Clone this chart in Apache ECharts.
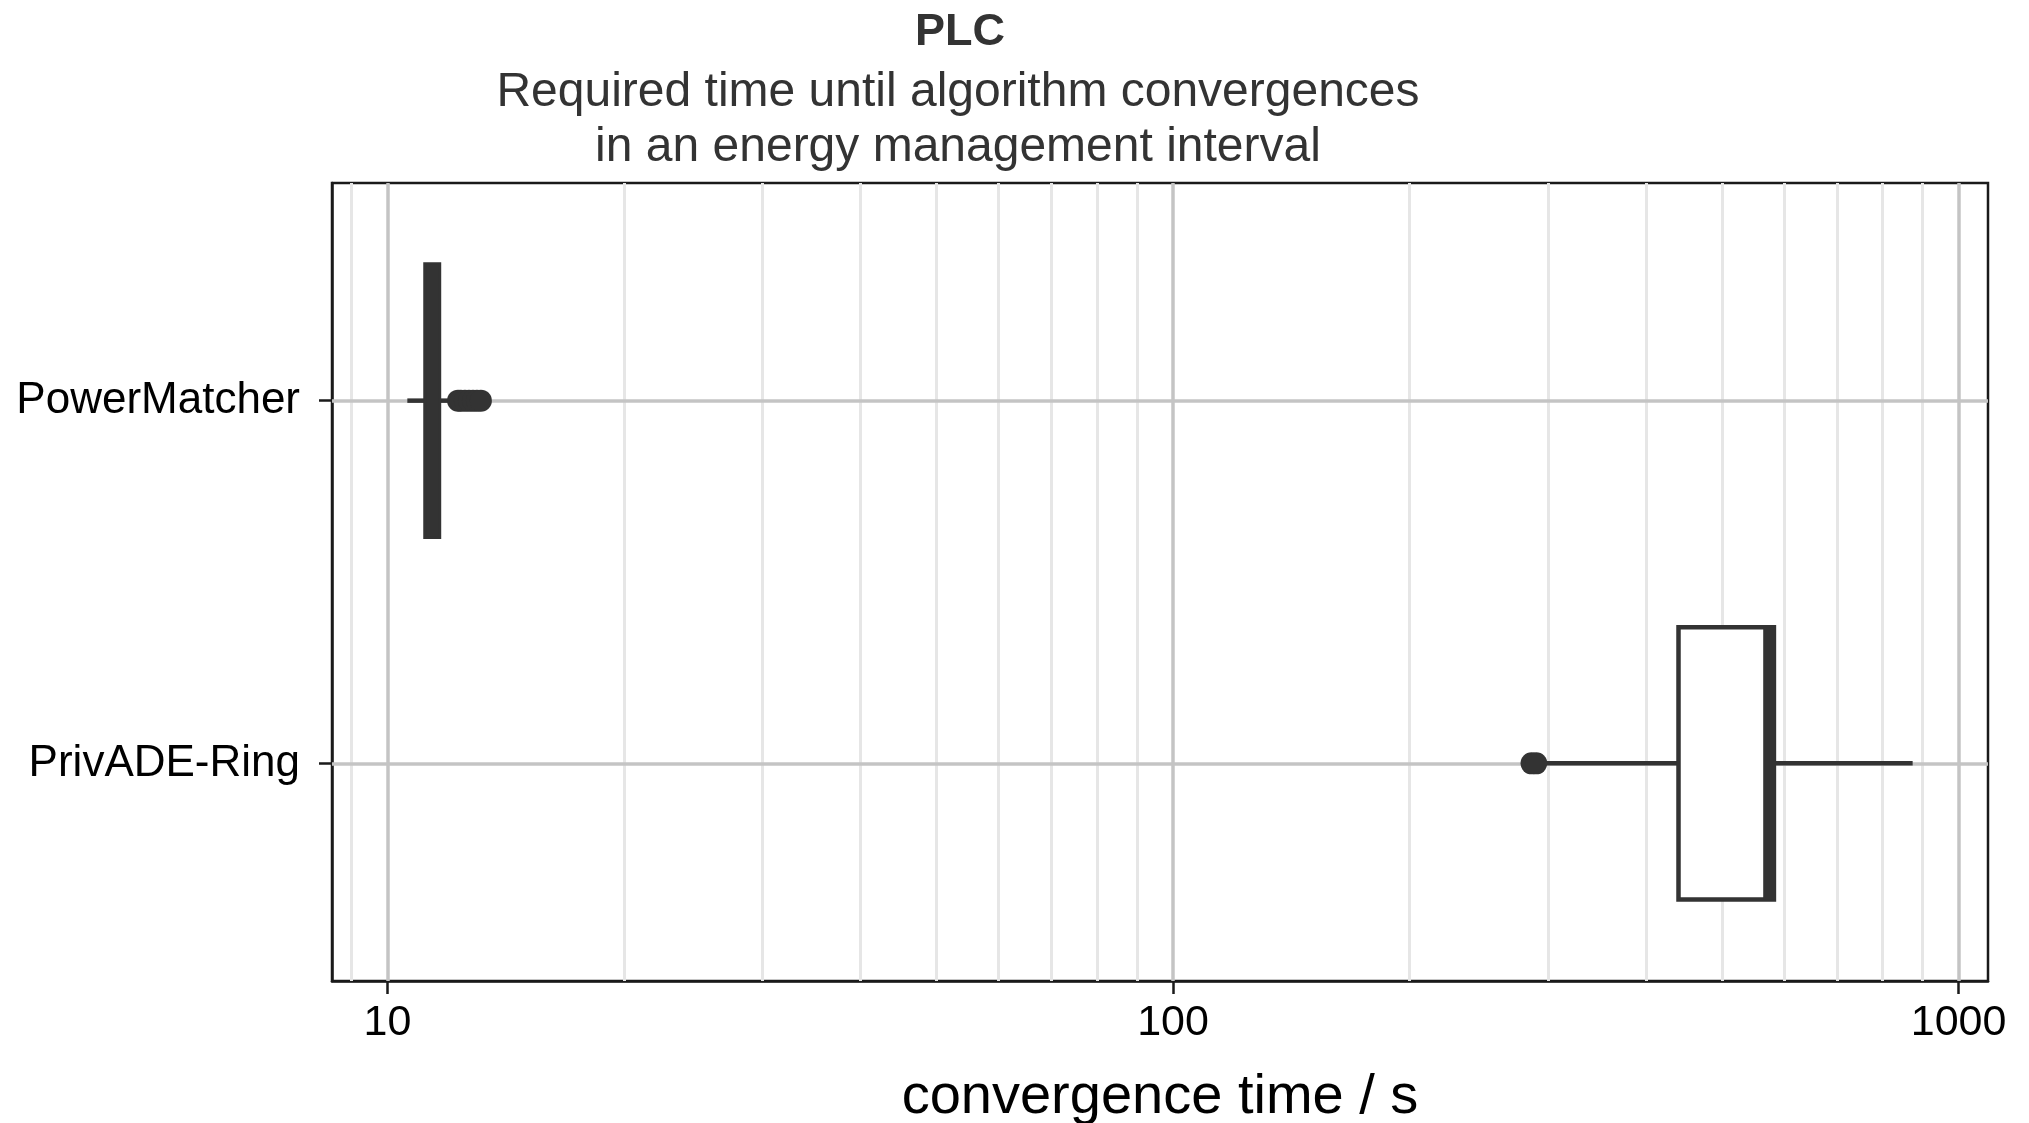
<!DOCTYPE html>
<html>
<head>
<meta charset="utf-8">
<title>PLC convergence time</title>
<script src="https://cdn.jsdelivr.net/npm/echarts@6/dist/echarts.min.js"></script>
<style>
    html, body { margin: 0; padding: 0; background: #fff; }
    #main { width: 2029px; height: 1123px; }
</style>
</head>
<body>
<div id="main"></div>
<script>
// categories top to bottom
var categories = ['PowerMatcher', 'PrivADE-Ring'];
// whisker low, Q1, median, Q3, whisker high (seconds)
var boxStats = [
    [10.6, 11.18, 11.4, 11.63, 11.95],
    [295, 440, 574, 582, 874]
];
var outliersPowerMatcher = [12.3, 12.4, 12.55, 12.7, 12.85, 13.0, 13.15];
var outliersPrivADE = [286, 290];
var xTicks = [10, 100, 1000];
var xMinorGrid = [9, 20, 30, 40, 50, 60, 70, 80, 90, 200, 300, 400, 500, 600, 700, 800, 900];

var font = 'Liberation Sans, Arial, Helvetica, sans-serif';
var dark = '#333333';

var boxData = boxStats.map(function (s, i) {
    return [i + 1].concat(s);
});
var outlierData = outliersPowerMatcher.map(function (v) { return [v, 1]; })
    .concat(outliersPrivADE.map(function (v) { return [v, 2]; }));

// grid lines: light minor ones first, then major and category lines
var gridLines = [];
xMinorGrid.forEach(function (v) {
    gridLines.push({xAxis: v, lineStyle: {color: '#e6e6e6', width: 3, type: 'solid'}});
});
xTicks.forEach(function (v) {
    gridLines.push({xAxis: v, lineStyle: {color: '#c4c4c4', width: 3.5, type: 'solid'}});
});
categories.forEach(function (c, i) {
    gridLines.push({yAxis: i + 1, lineStyle: {color: '#c4c4c4', width: 3.5, type: 'solid'}});
});

function renderBox(params, api) {
    var y = api.value(0);
    var lo = api.coord([api.value(1), y]);
    var q1 = api.coord([api.value(2), y]);
    var med = api.coord([api.value(3), y]);
    var q3 = api.coord([api.value(4), y]);
    var hi = api.coord([api.value(5), y]);
    var top = api.coord([api.value(3), y - 0.375])[1];
    var bottom = api.coord([api.value(3), y + 0.375])[1];
    var lineStyle = {stroke: dark, lineWidth: 4.5, fill: null};
    return {
        type: 'group',
        children: [
            {type: 'line', shape: {x1: lo[0], y1: lo[1], x2: q1[0], y2: q1[1]}, style: lineStyle},
            {type: 'line', shape: {x1: q3[0], y1: q3[1], x2: hi[0], y2: hi[1]}, style: lineStyle},
            {
                type: 'rect',
                shape: {x: q1[0], y: Math.min(top, bottom), width: q3[0] - q1[0], height: Math.abs(bottom - top)},
                style: {fill: '#ffffff', stroke: dark, lineWidth: 4.5}
            },
            {type: 'line', shape: {x1: med[0], y1: top, x2: med[0], y2: bottom}, style: {stroke: dark, lineWidth: 12}}
        ]
    };
}

var myChart = echarts.init(document.getElementById('main'));

var option = {
    backgroundColor: '#ffffff',
    animation: false,
    title: [
        {
            text: 'PLC',
            left: 955,
            top: 5,
            textAlign: 'center',
            textStyle: {fontFamily: font, fontSize: 45, fontWeight: 'bold', color: dark}
        },
        {
            text: 'Required time until algorithm convergences\nin an energy management interval',
            left: 953,
            top: 60,
            textAlign: 'center',
            textStyle: {fontFamily: font, fontSize: 48, fontWeight: 'normal', color: dark, lineHeight: 55}
        }
    ],
    grid: {
        left: 332,
        right: 41,
        top: 183,
        bottom: 142,
        outerBoundsMode: 'none',
        show: true,
        borderColor: '#1a1a1a',
        borderWidth: 2.5,
        backgroundColor: '#ffffff'
    },
    xAxis: {
        type: 'log',
        min: 8.5,
        max: 1090,
        name: 'convergence time / s',
        nameLocation: 'middle',
        nameGap: 89,
        nameTextStyle: {fontFamily: font, fontSize: 56, color: '#000'},
        axisLine: {show: true, lineStyle: {color: '#1a1a1a', width: 2.5}},
        axisTick: {show: true, length: 13, customValues: xTicks, lineStyle: {color: '#1a1a1a', width: 2.5}},
        axisLabel: {
            customValues: xTicks,
            fontFamily: font,
            fontSize: 43,
            color: '#000',
            margin: 21,
            formatter: function (v) { return String(v); }
        },
        splitLine: {show: false},
        minorSplitLine: {show: false}
    },
    yAxis: {
        type: 'value',
        min: 0.4,
        max: 2.6,
        inverse: true,
        axisLine: {show: true, lineStyle: {color: '#1a1a1a', width: 2.5}},
        axisTick: {show: true, length: 13, customValues: [1, 2], lineStyle: {color: '#1a1a1a', width: 2.5}},
        axisLabel: {
            customValues: [1, 2],
            fontFamily: font,
            fontSize: 44,
            color: '#000',
            margin: 32,
            formatter: function (v) { return categories[Math.round(v) - 1] || ''; }
        },
        splitLine: {show: false}
    },
    series: [
        {
            name: 'grid',
            type: 'scatter',
            data: [],
            silent: true,
            z: 1,
            markLine: {
                silent: true,
                symbol: 'none',
                z: 1,
                label: {show: false},
                animation: false,
                data: gridLines
            }
        },
        {
            name: 'box',
            type: 'custom',
            renderItem: renderBox,
            data: boxData,
            encode: {x: [1, 2, 3, 4, 5], y: 0},
            z: 3
        },
        {
            name: 'outliers',
            type: 'scatter',
            data: outlierData,
            symbol: 'circle',
            symbolSize: 22,
            itemStyle: {color: dark, opacity: 1},
            z: 4
        }
    ]
};

myChart.setOption(option);
</script>
</body>
</html>
